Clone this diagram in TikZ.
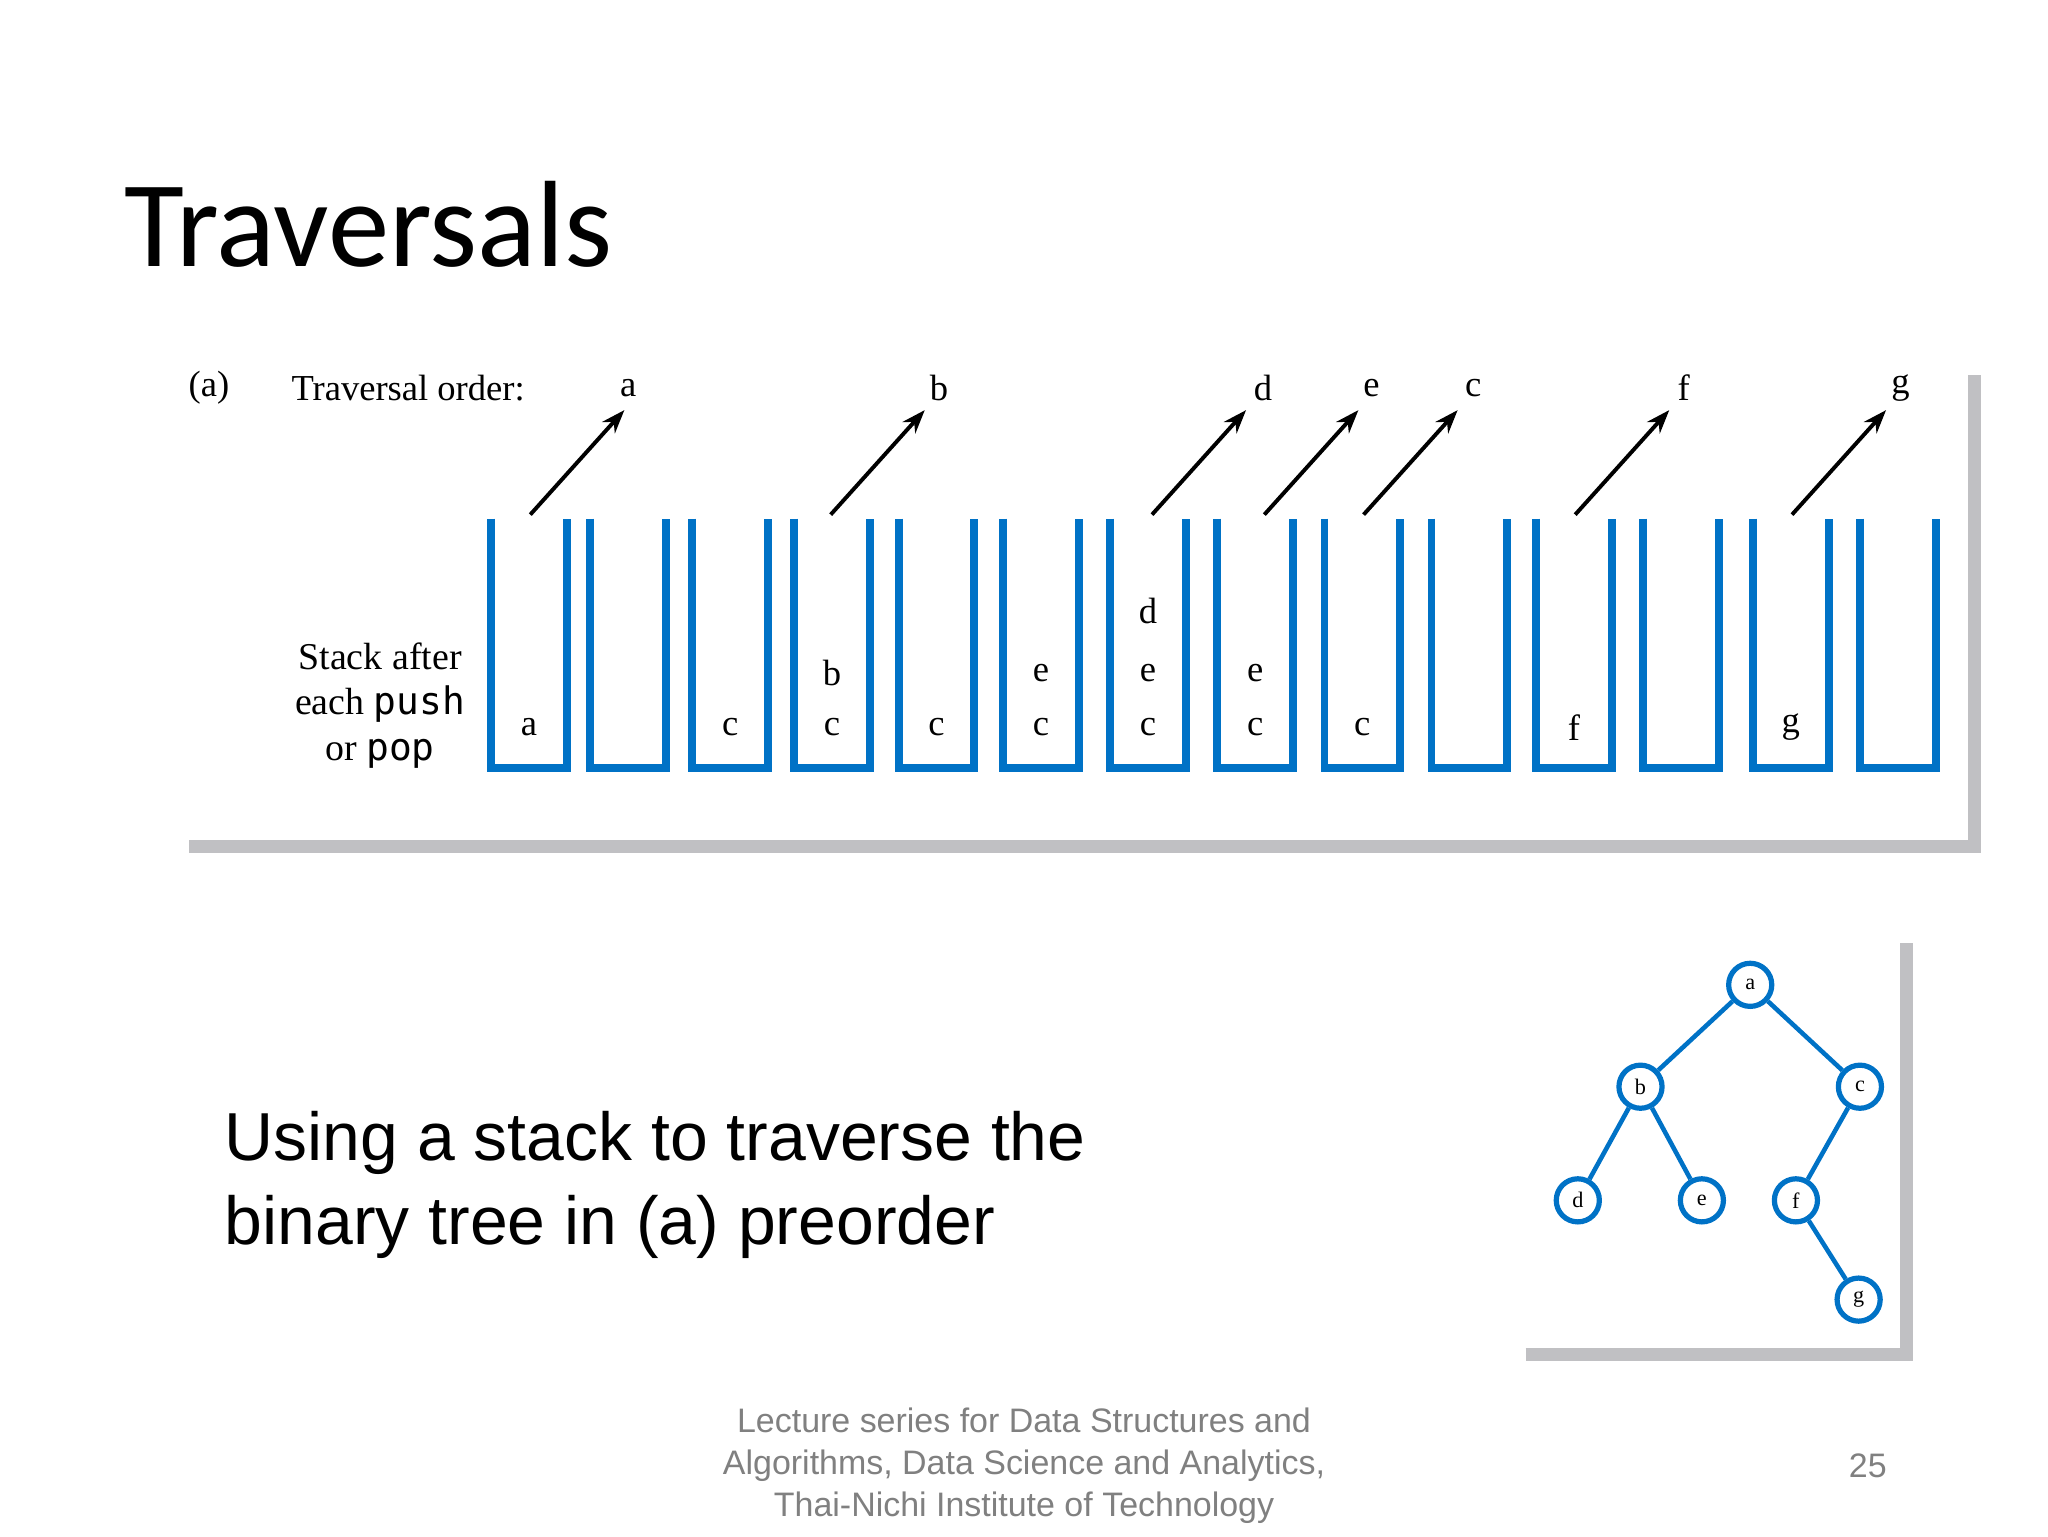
\documentclass[tikz,border=0pt]{standalone}
\usepackage{fontspec}
\setmainfont{Liberation Serif}
\newfontfamily\sans{Liberation Sans}
\newfontfamily\carl{Carlito}
\setmonofont{DejaVu Sans Mono}
\usetikzlibrary{arrows.meta}
\definecolor{cupblue}{RGB}{0,114,198}
\definecolor{framegray}{RGB}{192,192,195}
\begin{document}
\begin{tikzpicture}[x=1pt,y=-1pt,
  cup/.style={draw=cupblue,line width=6pt},
  lbl/.style={font=\fontsize{28}{30}\selectfont,inner sep=0pt},
  arr/.style={line width=3pt,-{Stealth[length=18pt,width=13pt]}},
  frame/.style={draw=framegray,line width=10pt},
  tn/.style={circle,draw=cupblue,line width=4pt,minimum size=33pt,inner sep=0pt,fill=white,font=\fontsize{17}{18}\selectfont},
  te/.style={draw=cupblue,line width=3.5pt}]
\useasboundingbox (0,0) rectangle (1568,1176);
\node[anchor=west,font=\carl\fontsize{94}{96}\selectfont,inner sep=0pt] (title) at (95,172) {Traversals};
% frame
\draw[frame] (145,648) -- (1512,648) -- (1512,287);
\draw[frame] (1168,1037) -- (1460,1037) -- (1460,722);
\node[lbl] (pa) at (160,297) {(a)};
\node[lbl,anchor=west] (to) at (223,297) {Traversal order:};
\node[lbl,align=center,font=\fontsize{29}{35}\selectfont] (sa) at (291,540) {Stack after\\each \texttt{push}\\or \texttt{pop}};
% cups
\foreach \x [count=\i] in {376,452,530,608,688,768,850,932,1014,1096,1176,1258,1342,1424}{
  \draw[cup] (\x,397) -- (\x,588) -- (\x+58,588) -- (\x+58,397);
  \coordinate (cup\i) at (\x+29,0);
}
\foreach \i/\y/\t in {1/557/a,3/557/c,4/557/c,4/515/b,5/557/c,6/557/c,6/515/e,7/557/c,7/515/e,7/468/d,8/557/c,8/515/e,9/557/c,11/557/f,13/557/g}{
  \path (cup\i) ++(0,\y) node[lbl] (s\i\t) {\t};
}
% arrows
\foreach \sx/\lx/\t in {406/481/a,636/719/b,882/967/d,968/1050/e,1044/1128/c,1206/1289/f,1372/1455/g}{
  \node[lbl] (o\t) at (\lx,297) {\t};
  \coordinate (st\t) at (\sx,394);
  \draw[arr] (st\t) -- (\sx+72,314);
}
% text
\node[anchor=west,align=left,font=\sans\fontsize{52}{64}\selectfont,inner sep=0pt] (body) at (172,907) {Using a stack to traverse the\\binary tree in (a) preorder};
\node[align=center,font=\sans\fontsize{26}{32}\selectfont,text=gray,inner sep=0pt] (foot) at (784,1122) {Lecture series for Data Structures and\\Algorithms, Data Science and Analytics,\\Thai-Nichi Institute of Technology};
\node[font=\sans\fontsize{26}{30}\selectfont,text=gray,inner sep=0pt] (pg) at (1430,1122) {25};
% tree
\node[tn] (a) at (1340,754) {a};
\node[tn] (b) at (1256,832) {b};
\node[tn] (c) at (1424,832) {c};
\node[tn] (d) at (1208,919) {d};
\node[tn] (e) at (1303,919) {e};
\node[tn] (f) at (1375,919) {f};
\node[tn] (g) at (1423,995) {g};
\draw[te] (a)--(b) (a)--(c) (b)--(d) (b)--(e) (c)--(f) (f)--(g);
\end{tikzpicture}
\end{document}
